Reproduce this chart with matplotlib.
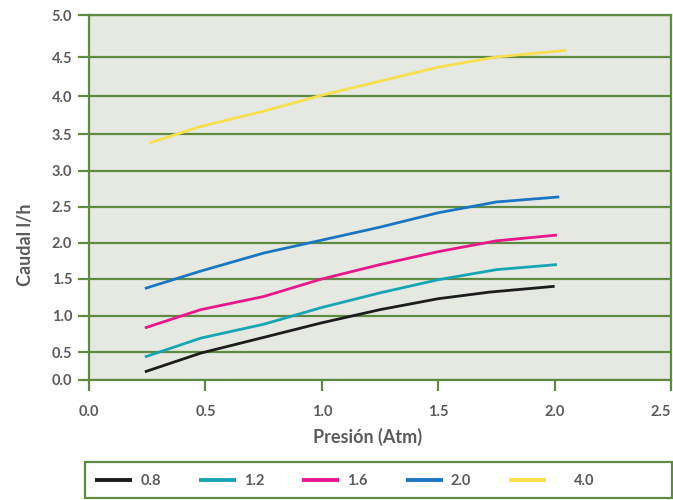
import numpy as np
import matplotlib
matplotlib.use("Agg")
import matplotlib.pyplot as plt
from matplotlib.patches import Rectangle
from matplotlib.transforms import ScaledTranslation

# Flow (l/h) against pressure (Atm) for each emitter size
series_names = ["0.8", "1.2", "1.6", "2.0", "4.0"]

x_08 = [0.24, 0.48, 0.75, 1.0, 1.25, 1.5, 1.72, 2.0]
y_08 = [0.14, 0.48, 0.70, 0.90, 1.08, 1.23, 1.32, 1.40]

x_12 = [0.24, 0.48, 0.75, 1.0, 1.25, 1.5, 1.75, 2.01]
y_12 = [0.41, 0.69, 0.88, 1.11, 1.31, 1.49, 1.63, 1.70]

x_16 = [0.24, 0.48, 0.75, 1.0, 1.25, 1.5, 1.75, 2.01]
y_16 = [0.83, 1.08, 1.26, 1.50, 1.70, 1.88, 2.03, 2.11]

x_20 = [0.24, 0.48, 0.75, 1.0, 1.25, 1.5, 1.75, 2.02]
y_20 = [1.37, 1.61, 1.86, 2.04, 2.22, 2.42, 2.57, 2.64]

x_40 = [0.26, 0.48, 0.75, 1.0, 1.25, 1.5, 1.75, 2.05]
y_40 = [3.38, 3.60, 3.80, 4.01, 4.19, 4.37, 4.50, 4.58]

x_ticks = [0.0, 0.5, 1.0, 1.5, 2.0, 2.5]
y_ticks = [0.0, 0.5, 1.0, 1.5, 2.0, 2.5, 3.0, 3.5, 4.0, 4.5, 5.0]

colors = ["#1c1c1c", "#17a5b4", "#e8178a", "#1a76c2", "#f7e04f"]
grid_green = "#5e8a42"
text_gray = "#5b5b5b"

# Uneven spacing of the printed value grid (relative heights of each gridline)
grid_heights = np.array([0.0, 27.5, 64.0, 100.5, 136.5, 172.5, 208.5, 245.5, 283.5, 322.5, 364.5])


def fwd(v):
    return np.interp(v, y_ticks, grid_heights)


def inv(h):
    return np.interp(h, grid_heights, y_ticks)


plt.rcParams["font.family"] = ["Lato", "DejaVu Sans"]

fig = plt.figure(figsize=(6.73, 5.0), dpi=100)
ax = fig.add_axes([89 / 673, 1 - 379.5 / 500, 582 / 673, 364.5 / 500])
ax.set_facecolor("#e6e9e1")
ax.set_yscale("function", functions=(fwd, inv))

xs = [x_08, x_12, x_16, x_20, x_40]
ys = [y_08, y_12, y_16, y_20, y_40]
handles = []
for xv, yv, c, name in zip(xs, ys, colors, series_names):
    (ln,) = ax.plot(xv, yv, color=c, lw=2.0, label=name, solid_capstyle="butt", zorder=3)
    handles.append(ln)

ax.set_xlim(0, 2.5)
ax.set_ylim(0, 5.0)
ax.set_xticks(x_ticks)
ax.set_yticks(y_ticks)
ax.set_xticklabels([f"{v:.1f}" for v in x_ticks])
ax.set_yticklabels([f"{v:.1f}" for v in y_ticks])

ax.grid(axis="y", color=grid_green, lw=1.6, zorder=1)
ax.set_axisbelow(True)
for s in ax.spines.values():
    s.set_color(grid_green)
    s.set_linewidth(1.6)

ax.tick_params(axis="both", colors=grid_green, width=1.6, length=8,
               labelcolor=text_gray, labelsize=10.5)
ax.tick_params(axis="x", pad=10)
ax.tick_params(axis="y", pad=4)
for lab in ax.get_xticklabels() + ax.get_yticklabels():
    lab.set_fontweight("bold")

# keep the last x label inside the figure edge
last = ax.get_xticklabels()[-1]
last.set_transform(last.get_transform() + ScaledTranslation(-0.10, 0, fig.dpi_scale_trans))

fig.text(368 / 673, 1 - 437 / 500, "Presión (Atm)", ha="center", va="center",
         fontsize=13, fontweight="bold", color=text_gray)
fig.text(25 / 673, 1 - 245 / 500, "Caudal l/h", ha="center", va="center",
         rotation=90, fontsize=13, fontweight="bold", color=text_gray)

# legend frame
fig.add_artist(Rectangle((85 / 673, 1 - 498 / 500), 587 / 673, 36 / 500,
                         transform=fig.transFigure, facecolor="white",
                         edgecolor=grid_green, lw=1.6, zorder=0))

leg = fig.legend(handles=handles, labels=series_names, ncol=5,
                 bbox_to_anchor=(95 / 673, 1 - 481 / 500),
                 loc="center left", frameon=False,
                 handlelength=2.55, handletextpad=0.55, columnspacing=2.6,
                 borderpad=0, borderaxespad=0,
                 prop={"size": 10.5, "weight": "bold"})
for t in leg.get_texts():
    t.set_color(text_gray)
for h in leg.get_lines():
    h.set_linewidth(2.8)
last_t = leg.get_texts()[-1]
last_t.set_transform(last_t.get_transform() + ScaledTranslation(0.19, 0, fig.dpi_scale_trans))

fig.savefig("out.png", dpi=100, facecolor="white")
